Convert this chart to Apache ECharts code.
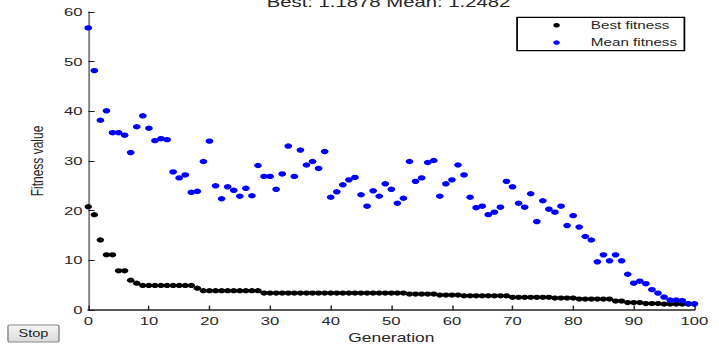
<!DOCTYPE html>
<html>
<head>
<meta charset="utf-8">
<script src="https://cdn.jsdelivr.net/npm/echarts@6/dist/echarts.min.js"></script>
<style>
html,body{margin:0;padding:0;background:#fff;}
#wrap{width:719px;height:356px;overflow:hidden;position:relative;background:#fff;}
#chart{width:496px;height:356px;transform:scaleX(1.4496);transform-origin:0 0;}
</style>
</head>
<body>
<div id="wrap"><div id="chart"></div></div>
<script>
// ---- data ----
const generations = [0,1,2,3,4,5,6,7,8,9,10,11,12,13,14,15,16,17,18,19,20,21,22,23,24,25,26,27,28,29,30,31,32,33,34,35,36,37,38,39,40,41,42,43,44,45,46,47,48,49,50,51,52,53,54,55,56,57,58,59,60,61,62,63,64,65,66,67,68,69,70,71,72,73,74,75,76,77,78,79,80,81,82,83,84,85,86,87,88,89,90,91,92,93,94,95,96,97,98,99,100];
const bestFitness = [20.8,19.2,14.1,11.1,11.1,7.9,7.9,6.0,5.4,
  4.95,4.95,4.95,4.95,4.95,4.95,4.95,4.95,4.95,
  4.4,
  3.9,3.9,3.9,3.9,3.9,3.9,3.9,3.9,3.9,3.9,
  3.4,3.4,3.4,3.4,3.4,3.4,3.4,3.4,3.4,3.4,3.4,3.4,3.4,3.4,3.4,3.4,3.4,3.4,3.4,3.4,3.4,3.4,3.4,3.4,
  3.2,3.2,3.2,3.2,3.2,
  3.0,3.0,3.0,3.0,
  2.85,2.85,2.85,2.85,2.85,2.85,2.85,2.85,
  2.55,2.55,2.55,2.55,2.55,2.55,2.55,
  2.4,2.4,2.4,2.4,
  2.2,2.2,2.2,2.2,2.2,2.2,
  1.8,1.8,
  1.5,1.5,1.5,
  1.3,1.3,1.3,
  1.19,1.19,1.19,1.19,1.19,1.1878];
const meanFitness = [56.8,48.2,38.2,40.1,35.7,35.7,35.2,31.7,36.9,39.1,
  36.6,34.1,34.5,34.3,27.8,26.6,27.2,23.7,23.9,29.9,
  34.0,25.0,22.4,24.8,24.1,22.9,24.5,23.0,29.1,26.9,
  26.9,24.3,27.4,33.0,26.9,32.2,29.2,29.9,28.5,31.9,
  22.7,23.8,25.2,26.2,26.7,23.2,20.9,24.0,22.9,25.4,
  24.3,21.5,22.5,29.9,25.9,26.6,29.7,30.1,22.9,25.4,
  26.2,29.2,27.2,22.7,20.6,20.9,19.2,19.7,20.7,25.9,
  24.8,21.5,20.7,23.4,17.8,22.0,20.3,19.7,20.9,17.0,
  19.0,16.7,14.8,14.1,9.7,11.1,9.9,11.1,9.9,7.2,
  5.4,5.8,5.3,4.1,3.4,2.6,2.0,2.0,1.9,1.3,1.2482];
const xTicks = [0,10,20,30,40,50,60,70,80,90,100];
const yTicks = [0,10,20,30,40,50,60];
const seriesNames = ['Best fitness','Mean fitness'];
const titleText = 'Best: 1.1878 Mean: 1.2482';
const buttonText = 'Stop';

// ---- chart ----
const FONT = "'Liberation Sans', Arial, sans-serif";
const TXT = '#262626';
const chart = echarts.init(document.getElementById('chart'), null, {renderer:'svg'});
const pair = arr => generations.map((g,i)=>[g, arr[i]]);

chart.setOption({
  animation:false,
  backgroundColor:'#fff',
  textStyle:{fontFamily:FONT},
  grid:{left:60.9, right:17, top:12, bottom:46, containLabel:false, outerBoundsMode:'none'},
  legend:{
    left:356.7, top:17.3, orient:'vertical',
    padding:[2,5,2,25], itemWidth:4.5, itemHeight:4.5, itemGap:5.3,
    borderColor:'#000', borderWidth:1.2, backgroundColor:'#fff', borderRadius:0,
    icon:'circle',
    textStyle:{fontSize:10.5, color:TXT, fontFamily:FONT, lineHeight:12, padding:[0,0,0,16.4]},
    data:seriesNames
  },
  xAxis:{
    type:'value', min:xTicks[0], max:xTicks[xTicks.length-1], interval:xTicks[1]-xTicks[0],
    name:'Generation', nameLocation:'middle', nameGap:18,
    nameTextStyle:{fontSize:12, color:TXT, fontFamily:FONT},
    axisLine:{show:true, onZero:false, lineStyle:{color:'#222', width:1.5}},
    axisTick:{show:true, inside:true, length:4.4, lineStyle:{color:'#222', width:1}},
    axisLabel:{margin:5, fontSize:11.5, color:TXT, fontFamily:FONT},
    splitLine:{show:false}
  },
  yAxis:{
    type:'value', min:yTicks[0], max:yTicks[yTicks.length-1], interval:yTicks[1]-yTicks[0],
    name:'Fitness value', nameLocation:'middle', nameRotate:90, nameGap:30,
    nameTextStyle:{fontSize:12, color:TXT, fontFamily:FONT},
    axisLine:{show:true, onZero:false, lineStyle:{color:'#808080', width:1.3}},
    axisTick:{show:true, inside:true, length:4.4, lineStyle:{color:'#222', width:1}},
    axisLabel:{margin:4, fontSize:11.5, color:TXT, fontFamily:FONT},
    splitLine:{show:false}
  },
  graphic:[
    {type:'text', x:268, y:9, silent:true,
      style:{text:titleText, textAlign:'center', textVerticalAlign:'bottom', font:'14px '+FONT, fill:TXT}},
    {type:'group', x:5.5, y:325, children:[
      {type:'rect', shape:{x:0,y:0,width:35.2,height:17,r:1.5},
        style:{fill:new echarts.graphic.LinearGradient(0,0,0,1,[{offset:0,color:'#f6f6f6'},{offset:1,color:'#dadada'}]), stroke:'#8a8a8a', lineWidth:1}},
      {type:'text', x:17.6, y:8.7, style:{text:buttonText, textAlign:'center', textVerticalAlign:'middle', font:'10px '+FONT, fill:'#1a1a1a'}}
    ]}
  ],
  series:[
    {name:seriesNames[0], type:'scatter', data:pair(bestFitness), symbol:'circle', symbolSize:5.2,
      itemStyle:{color:'#000', opacity:1}, emphasis:{disabled:true}},
    {name:seriesNames[1], type:'scatter', data:pair(meanFitness), symbol:'circle', symbolSize:5.4,
      itemStyle:{color:'#0000ff', opacity:1}, emphasis:{disabled:true}}
  ]
});
</script>
</body>
</html>
